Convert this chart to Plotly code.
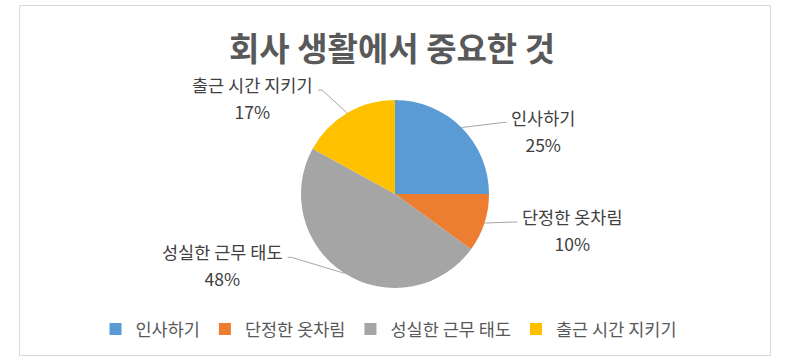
import math
import plotly.graph_objects as go

# ---- data ----
categories = ["인사하기", "단정한 옷차림", "성실한 근무 태도", "출근 시간 지키기"]
values = [25, 10, 48, 17]
title_text = "회사 생활에서 중요한 것"

# ---- style ----
colors = ["#5B9BD5", "#ED7D31", "#A5A5A5", "#FFC000"]
W, H = 786, 362
CX, CY, R = 395, 194, 94          # pie centre / radius in px
# leader-line end offset from the slice's edge point (px)
label_offsets = [(45, -5), (33, -1), (-57, -16), (-29, -23)]
FONT = "Noto Sans CJK KR"
LABEL_SIZE = 17.5


def px(x):
    return x / W


def py(y):
    return 1 - y / H


fig = go.Figure()
fig.add_trace(go.Pie(
    labels=categories, values=values, sort=False, direction="clockwise",
    rotation=0, marker=dict(colors=colors, line=dict(width=0)),
    textinfo="none", hole=0,
    domain=dict(x=[px(CX - R), px(CX + R)], y=[py(CY + R), py(CY - R)]),
))

total = sum(values)
cum = 0
shapes = []
annotations = []
for i, (cat, v) in enumerate(zip(categories, values)):
    mid = (cum + v / 2) / total * 2 * math.pi
    cum += v
    ex = CX + R * math.sin(mid)
    ey = CY - R * math.cos(mid)
    dx, dy = label_offsets[i]
    lx, ly = ex + dx, ey + dy
    right = dx > 0
    tail = 4 if right else -4
    path = f"M{px(ex)},{py(ey)} L{px(lx - tail)},{py(ly)} L{px(lx)},{py(ly)}"
    shapes.append(dict(type="path", path=path, xref="paper", yref="paper",
                       line=dict(color="#A6A6A6", width=1)))
    pct = round(v / total * 100)
    txt = (f'<span style="font-size:{LABEL_SIZE}px">{cat}</span><br>'
           f'<span style="font-size:{LABEL_SIZE}px">{pct}%</span>')
    annotations.append(dict(
        x=px(lx + (3 if right else -3)), y=py(ly - 7), xref="paper", yref="paper",
        text=txt, showarrow=False, align="center",
        xanchor="left" if right else "right", yanchor="top",
        yshift=13,
        font=dict(family=FONT, size=21, color="#404040"),
    ))

annotations.append(dict(
    x=px(392), y=py(47), xref="paper", yref="paper", text=f"<b>{title_text}</b>",
    showarrow=False, xanchor="center", yanchor="middle",
    font=dict(family=FONT, size=33, color="#595959"),
))

shapes.append(dict(type="rect", xref="paper", yref="paper",
                   x0=px(19.5), x1=px(770.5), y0=py(355.5), y1=py(5.5),
                   line=dict(color="#D9D9D9", width=1)))

fig.update_layout(
    width=W, height=H, margin=dict(l=0, r=0, t=0, b=0),
    paper_bgcolor="white", plot_bgcolor="white",
    showlegend=True,
    legend=dict(orientation="h", x=px(389), xanchor="center", y=py(329),
                yanchor="middle",
                font=dict(family=FONT, size=LABEL_SIZE, color="#595959"),
                itemwidth=30, traceorder="normal"),
    shapes=shapes, annotations=annotations,
    font=dict(family=FONT),
)

fig.write_html("out.html", config={"displayModeBar": False},
               post_script="document.body.style.margin='0';document.body.style.overflow='hidden';")
